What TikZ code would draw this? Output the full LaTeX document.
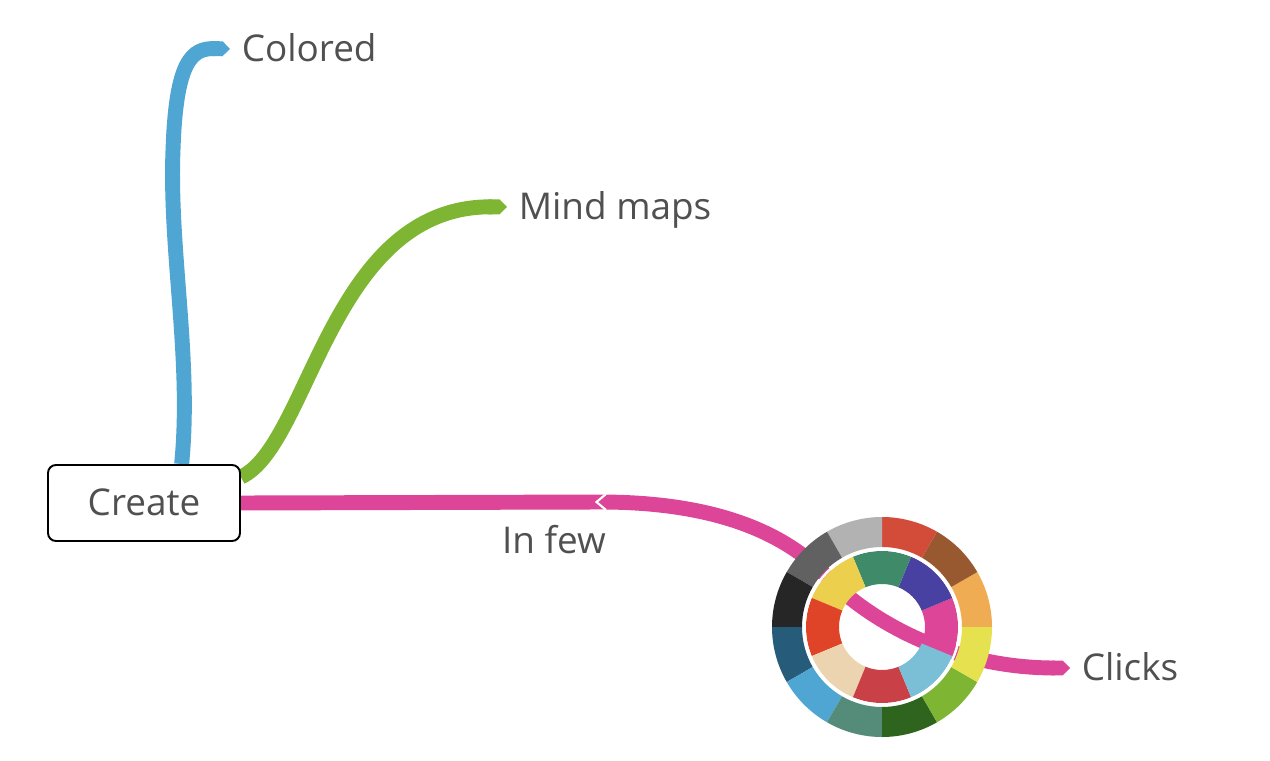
\documentclass[tikz,border=0pt]{standalone}
\usepackage{fontspec}
\setmainfont{Open Sans}
\usepackage{tikz}
\usetikzlibrary{arrows.meta, backgrounds}
\usepackage{xcolor}

\definecolor{textgray}{HTML}{505050}
\definecolor{bBlue}{HTML}{4FA6D3}
\definecolor{bGreen}{HTML}{7EB533}
\definecolor{bPink}{HTML}{DC4598}
% outer ring
\definecolor{oOrange}{HTML}{F0AC52}
\definecolor{oBrown}{HTML}{985830}
\definecolor{oRed}{HTML}{D34C3A}
\definecolor{oLight}{HTML}{B2B2B2}
\definecolor{oDark}{HTML}{616161}
\definecolor{oBlack}{HTML}{262626}
\definecolor{oNavy}{HTML}{275B7A}
\definecolor{oTeal}{HTML}{558B79}
\definecolor{oForest}{HTML}{2F641E}
\definecolor{oYellow}{HTML}{E6E24F}
% inner ring
\definecolor{iPurple}{HTML}{4941A2}
\definecolor{iGreen}{HTML}{3E8A69}
\definecolor{iYellow}{HTML}{EDCF4E}
\definecolor{iOrange}{HTML}{E04428}
\definecolor{iBeige}{HTML}{EDD4B1}
\definecolor{iRed}{HTML}{C94046}
\definecolor{iSky}{HTML}{7ABFD6}

\tikzset{
	x=0.02cm, y=-0.02cm,
	branch/.style={line width=8.5pt, -{Triangle Cap[]}},
	topic/.style={text=textgray, font=\fontsize{21}{25}\selectfont,
		text height=14.7pt, text depth=0pt, inner xsep=6.5pt, anchor=west},
	root/.style={topic, draw=black, line width=1.1pt, fill=white, anchor=center,
		rounded corners=4.5pt, minimum width=3.84cm, minimum height=1.52cm}}

\begin{document}
\begin{tikzpicture}
		\useasboundingbox (0,0) rectangle (1270,760);

		\node[root] (create) at (144,503) {Create};
		\node[topic] (colored) at (230,49) {Colored};
		\node[topic] (mindmaps) at (507,207) {Mind maps};
		\node[topic] (clicks) at (1070,668) {Clicks};
		\node[topic, anchor=center] (infew) at (554,541) {In few};
		\coordinate (fold) at (600,502);
		\coordinate (wheel) at (882,627);

		\begin{pgfonlayer}{background}
		\draw[branch, bBlue] (create.46) .. controls (192,360) and (169,250) .. (173,150)
			.. controls (176,60) and (192,48) .. (colored.west);
		\draw[branch, bGreen] (create.15) .. controls (310,445) and (330,205) .. (mindmaps.west);
		\draw[branch, bPink] (create.east) -- (fold) .. controls (700,502) and (780,525) .. (830,580)
			.. controls (870,620) and (950,668) .. (clicks.west);
		\draw[white, line width=1.2pt] ([shift={(6,-8)}]fold) -- ([xshift=-2]fold) -- ([shift={(6,8)}]fold);
		\end{pgfonlayer}

		% colour wheel
		\begin{scope}[shift={(wheel)}, yscale=-1]
			\foreach \a/\col in {0/oOrange, 30/oBrown, 60/oRed, 90/oLight, 120/oDark, 150/oBlack,
				180/oNavy, 210/bBlue, 240/oTeal, 270/oForest, 300/bGreen, 330/oYellow}
				\fill[\col] (\a:80) arc[start angle=\a, end angle=\a+30, radius=80]
					-- (\a+30:110) arc[start angle=\a+30, end angle=\a, radius=110] -- cycle;
			\foreach \a/\col in {-22.5/bPink, 22.5/iPurple, 67.5/iGreen, 112.5/iYellow,
				157.5/iOrange, 202.5/iBeige, 247.5/iRed, 292.5/iSky}
				\fill[\col] (\a:43) arc[start angle=\a, end angle=\a+45, radius=43]
					-- (\a+45:76) arc[start angle=\a+45, end angle=\a, radius=76] -- cycle;
			\draw[white, line width=1.4pt] (0,0) circle[radius=77.5];
		\end{scope}
	\end{tikzpicture}
\end{document}
